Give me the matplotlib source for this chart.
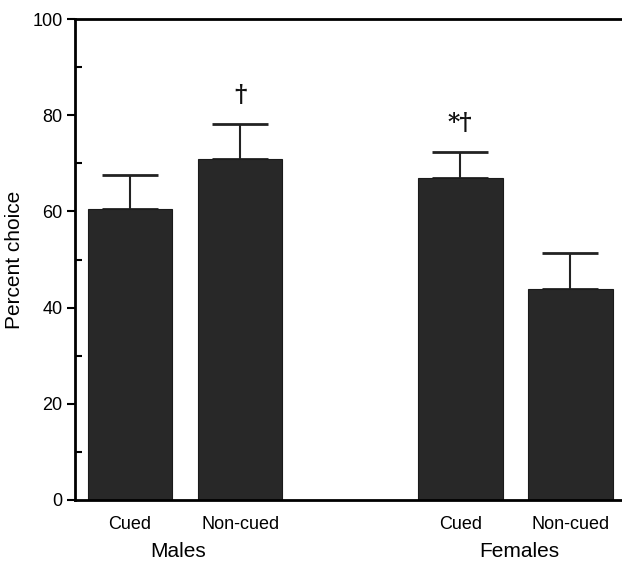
import matplotlib
matplotlib.use('Agg')
import matplotlib.pyplot as plt
from matplotlib.ticker import MultipleLocator

plt.rcParams['font.family'] = ['Liberation Sans', 'DejaVu Sans']

# data
conditions = ['Cued', 'Non-cued', 'Cued', 'Non-cued']
groups = ['Males', 'Females']
means = [60.5, 70.9, 66.9, 43.9]
errors = [7.1, 7.3, 5.4, 7.5]
marks = ['', '\u2020', '*\u2020', '']
xpos = [0, 1, 3, 4]
group_x = [0.44, 3.54]

fig = plt.figure(figsize=(6.22, 5.63), dpi=100)
ax = fig.add_axes([0.1206, 0.112, 0.8794, 0.854])

ax.bar(xpos, means, width=0.77, color='#282828', edgecolor='#1a1a1a',
       linewidth=0.8, zorder=2)
ax.errorbar(xpos, means, yerr=[[0] * 4, errors], fmt='none', ecolor='#222222',
            elinewidth=1.5, capsize=20, capthick=2, zorder=1)

for x, m, e, s in zip(xpos, means, errors, marks):
    if s:
        ax.text(x, m + e + 3.5, s, ha='center', va='bottom', fontsize=17,
                fontweight='bold', color='#111111', family='DejaVu Serif')

ax.set_xlim(-0.5, 4.47)
ax.set_ylim(0, 100)
ax.yaxis.set_major_locator(MultipleLocator(20))
ax.yaxis.set_minor_locator(MultipleLocator(10))
ax.tick_params(axis='y', which='major', direction='out', length=6, width=1.5,
               labelsize=13, pad=3)
ax.tick_params(axis='y', which='minor', direction='in', length=5, width=1.5)
ax.set_xticks([])
ax.spines['right'].set_visible(False)
for sp in ['left', 'bottom', 'top']:
    ax.spines[sp].set_linewidth(2)
ax.set_ylabel('Percent choice', fontsize=15, labelpad=6)

for x, c in zip(xpos, conditions):
    ax.text(x, -5.2, c, ha='center', va='center', fontsize=13,
            transform=ax.transData, clip_on=False)
for x, g in zip(group_x, groups):
    ax.text(x, -10.8, g, ha='center', va='center', fontsize=15,
            transform=ax.transData, clip_on=False)

fig.savefig('out.png', dpi=100)
